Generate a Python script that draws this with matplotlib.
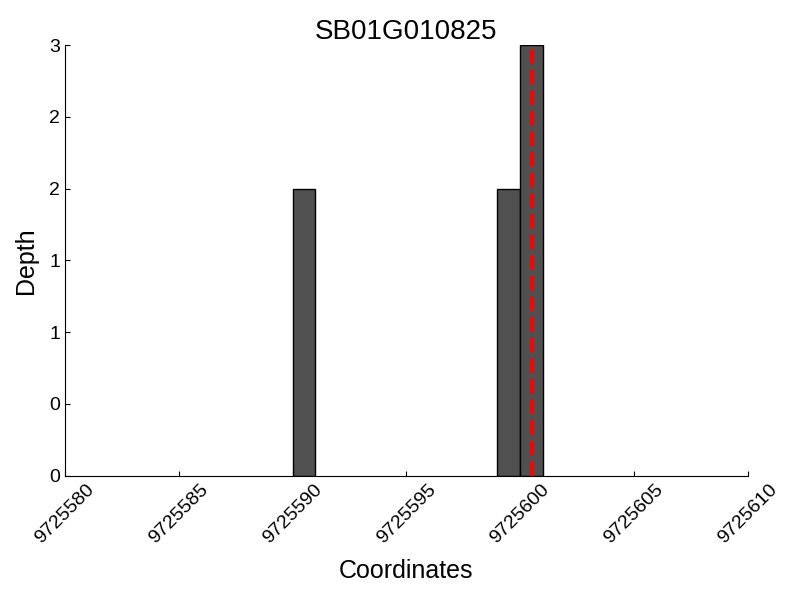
import matplotlib.pyplot as plt
from matplotlib.ticker import MultipleLocator, FormatStrFormatter

plt.rcParams["font.family"] = ["Liberation Sans", "DejaVu Sans"]

# Data
title = "SB01G010825"
positions = [9725590, 9725599, 9725600]
depths = [2, 2, 3]
marker_pos = 9725600.5
x_min, x_max = 9725580, 9725610

fig = plt.figure(figsize=(8, 6), dpi=100)
ax = fig.add_axes([0.081, 0.207, 0.854, 0.718])

ax.bar(positions, depths, width=1, align="edge", color="#505050",
       edgecolor="black", linewidth=1)
ax.axvline(marker_pos, color="red", linestyle="--", linewidth=2.8)

ax.set_xlim(x_min, x_max)
ax.set_ylim(0, 3)
ax.xaxis.set_major_locator(MultipleLocator(5))
ax.xaxis.set_major_formatter(FormatStrFormatter("%d"))
ax.yaxis.set_major_locator(MultipleLocator(0.5))
ax.yaxis.set_major_formatter(FormatStrFormatter("%d"))
ax.tick_params(direction="in", labelsize=14, top=False, right=False)
plt.setp(ax.get_xticklabels(), rotation=45, ha="center")

ax.spines["top"].set_visible(False)
ax.spines["right"].set_visible(False)

ax.set_title(title, fontsize=20, pad=4)
ax.set_xlabel("Coordinates", fontsize=18, labelpad=9)
ax.set_ylabel("Depth", fontsize=18, labelpad=8)

fig.savefig("out.png")
